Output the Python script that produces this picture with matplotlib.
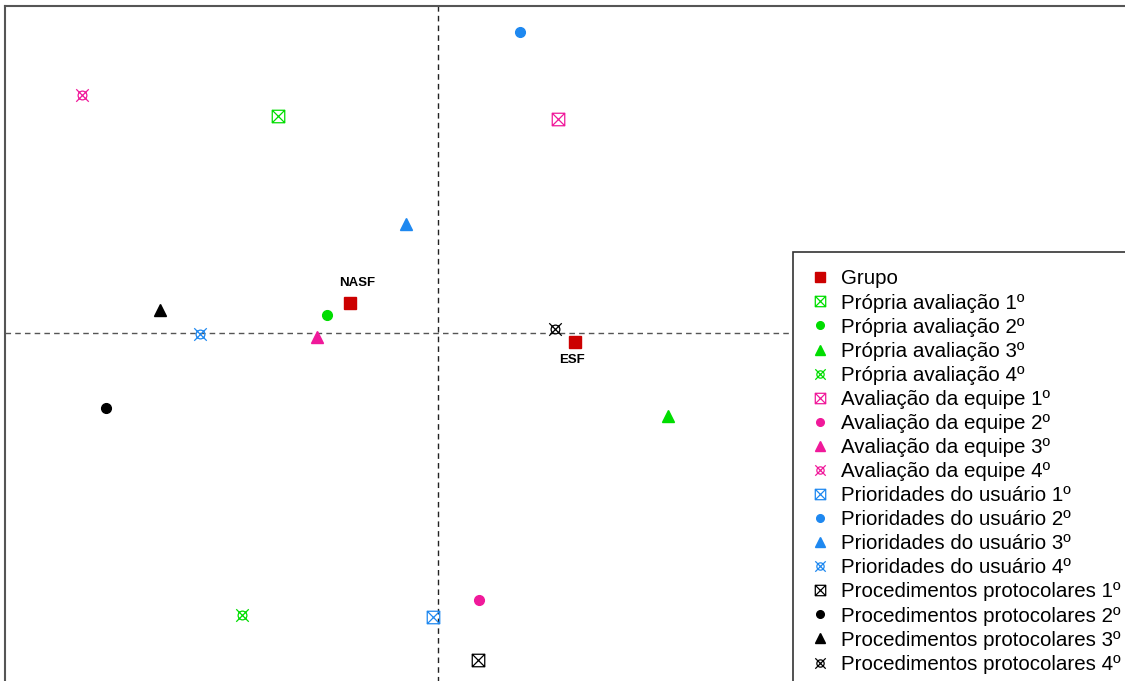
import matplotlib
matplotlib.use("Agg")
import matplotlib.pyplot as plt
from matplotlib.path import Path
from matplotlib.lines import Line2D

plt.rcParams['font.family'] = ['Liberation Sans', 'DejaVu Sans']

# Group points (first legend entry "Grupo")
group_names = ["NASF", "ESF"]
group_x = [-0.88, 1.37]
group_y = [0.30, -0.09]

# Category points, in legend order
cat_labels = [
    "Própria avaliação 1º", "Própria avaliação 2º", "Própria avaliação 3º", "Própria avaliação 4º",
    "Avaliação da equipe 1º", "Avaliação da equipe 2º", "Avaliação da equipe 3º", "Avaliação da equipe 4º",
    "Prioridades do usuário 1º", "Prioridades do usuário 2º", "Prioridades do usuário 3º", "Prioridades do usuário 4º",
    "Procedimentos protocolares 1º", "Procedimentos protocolares 2º", "Procedimentos protocolares 3º",
    "Procedimentos protocolares 4º",
]
cat_x = [-1.60, -1.11, 2.30, -1.96,
         1.20, 0.41, -1.21, -3.56,
         -0.05, 0.82, -0.32, -2.38,
         0.40, -3.32, -2.78, 1.17]
cat_y = [2.17, 0.18, -0.83, -2.82,
         2.14, -2.67, -0.04, 2.38,
         -2.84, 3.01, 1.09, -0.01,
         -3.27, -0.75, 0.23, 0.04]

# ---- marker shapes ----
M, L, C = Path.MOVETO, Path.LINETO, Path.CLOSEPOLY
box_x = Path([(-1, -1), (1, -1), (1, 1), (-1, 1), (-1, -1),
              (-1, -1), (1, 1), (-1, 1), (1, -1)],
             [M, L, L, L, C, M, L, M, L])
cross = Path([(-1, -1), (1, 1), (-1, 1), (1, -1)], [M, L, M, L])
circ = Path.unit_circle()
circ = Path(circ.vertices * 0.7, circ.codes)
circle_x = Path.make_compound_path(circ, cross)

red = '#CC0000'
colors = ['#00DD00', '#F0199A', '#1E88F0', 'black']
# (marker, filled, size) per rank 1..4
rank_style = [(box_x, False, 9), ('o', True, 7), ('^', True, 8), (circle_x, False, 9)]

fig = plt.figure(figsize=(11.25, 6.81), dpi=100)
ax = fig.add_axes([5 / 1125, -4 / 681, 1.0, 679 / 681])
ax.set_xlim(-4.33, 6.92)
ax.set_ylim(-3.52, 3.27)
ax.set_xticks([])
ax.set_yticks([])
for s in ax.spines.values():
    s.set_color('#555555')
    s.set_linewidth(1.5)

ax.axhline(0, color='#555555', lw=1, ls=(0, (4, 3)), zorder=1)
ax.axvline(0, color='#222222', lw=1, ls=(0, (4, 3)), zorder=1)

handles = [Line2D([], [], ls='none', marker='s', color=red, markersize=7)]
ax.plot(group_x, group_y, ls='none', marker='s', color=red, markersize=8, zorder=3)
for name, gx, gy in zip(group_names, group_x, group_y):
    if name == "NASF":
        dx, dy = 0.07, 0.20
    else:
        dx, dy = -0.03, -0.18
    ax.text(gx + dx, gy + dy, name, ha='center', va='center', fontsize=9.5, fontweight='bold')

for i, (cx, cy) in enumerate(zip(cat_x, cat_y)):
    col = colors[i // 4]
    mk, filled, ms = rank_style[i % 4]
    kw = dict(ls='none', marker=mk, markersize=ms, color=col)
    if not filled:
        kw.update(markerfacecolor='none', markeredgewidth=0.9)
    ax.plot([cx], [cy], zorder=3, **kw)
    hkw = dict(kw)
    hkw['markersize'] = ms - 1.5
    handles.append(Line2D([], [], **hkw))

leg = ax.legend(handles, ["Grupo"] + cat_labels, loc='upper left',
                bbox_to_anchor=(793 / 1125, 1 - 252 / 681), bbox_transform=fig.transFigure,
                borderaxespad=0, borderpad=0.85, fancybox=False, framealpha=1,
                fontsize=14.8, handlelength=0.92, handletextpad=0.56, labelspacing=0.247)
leg.get_frame().set_edgecolor('#333333')
leg.get_frame().set_linewidth(1.2)

fig.savefig('out.png', dpi=100)
